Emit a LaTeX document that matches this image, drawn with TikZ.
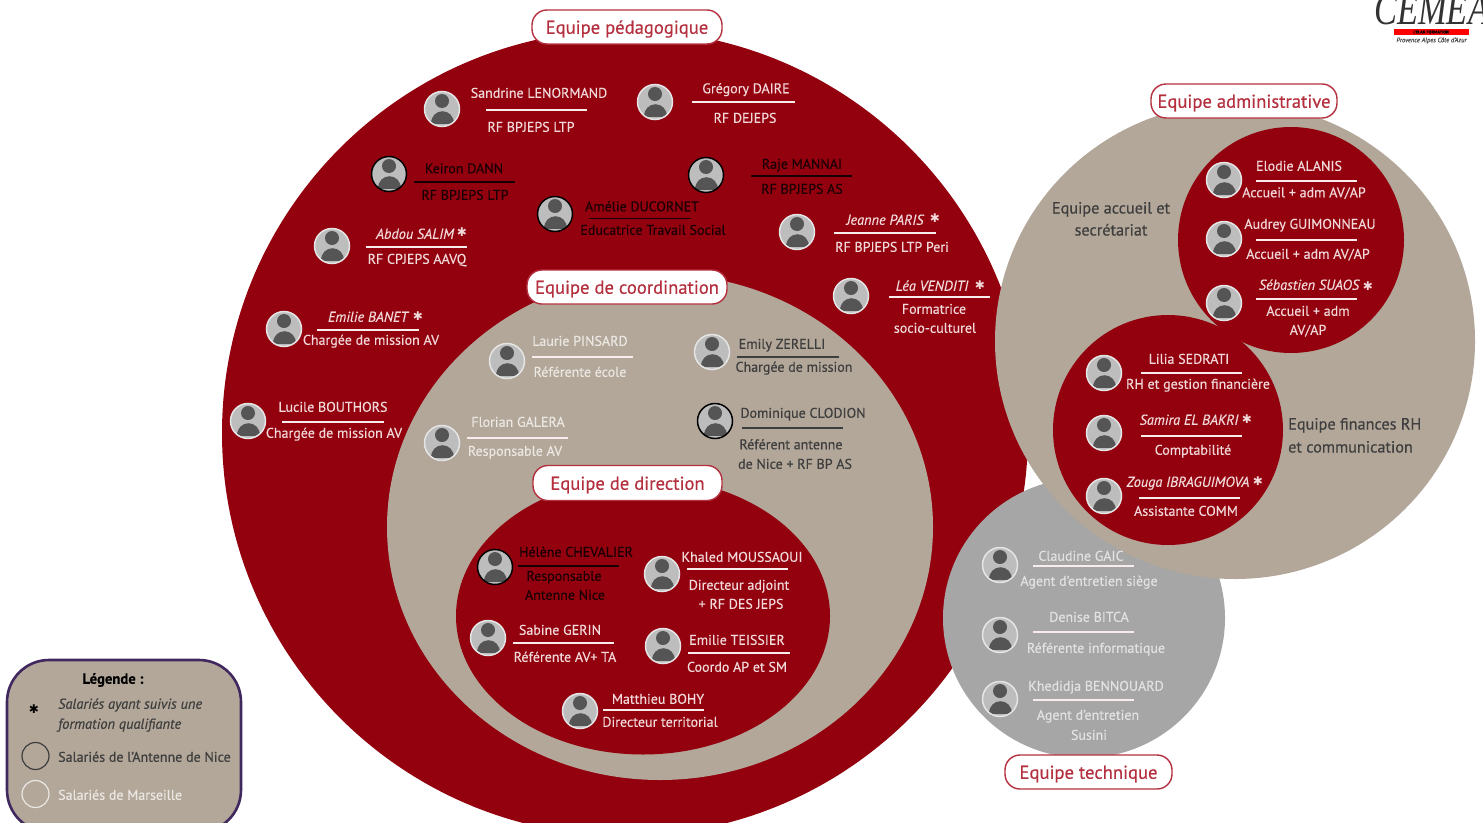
\documentclass[tikz,border=0pt]{standalone}
\usepackage{fontspec}
\setmainfont{PT Sans}[RawFeature={embolden=0.35}]
\newfontfamily\symfont{DejaVu Sans}
\newfontfamily\logofont{Liberation Serif}
\usetikzlibrary{shapes.geometric}
\definecolor{cred}{HTML}{93000E}
\definecolor{cbeige}{HTML}{B2A799}
\definecolor{cgrey}{HTML}{A6A6A6}
\definecolor{clab}{HTML}{B4303F}
\definecolor{cpurple}{HTML}{40285F}
\definecolor{cavfill}{HTML}{BDBDBD}
\definecolor{cavdark}{HTML}{555555}
\definecolor{cwr}{HTML}{F1D9D9}
\definecolor{cdk}{HTML}{1A0004}
\definecolor{cdb}{HTML}{3E3E3E}
\definecolor{cwb}{HTML}{EBE7E2}
\definecolor{cwg}{HTML}{E2E2E2}
\tikzset{
  team/.style={ellipse,inner sep=0pt,draw=none},
  tag/.style={draw=clab,line width=1.4pt,fill=white,rounded corners=15pt,inner sep=0pt,text=clab,text height=13.5pt,text depth=0pt,font=\fontsize{18.6}{20}\selectfont},
  avatar/.style={circle,minimum size=35pt,inner sep=0pt,fill=cavfill,line width=1.5pt,
    path picture={
      \fill[cavdark,shift={(path picture bounding box.center)}] (0pt,8pt) circle[radius=7pt];
      \fill[cavdark,shift={(path picture bounding box.center)}] (-11.5pt,-14.5pt) .. controls (-11.5pt,2pt) and (11.5pt,2pt) .. (11.5pt,-14.5pt) -- cycle;
    }},
  avw/.style={avatar,draw=white!90!black},
  avk/.style={avatar,draw=black},
  base/.style={inner sep=0pt,text height=9.5pt,text depth=0pt,font=\fontsize{14}{16}\selectfont},
  tw/.style={base,text=cwr},
  tk/.style={base,text=cdk},
  tb/.style={base,text=cdb},
  tl/.style={base,text=cwb},
  tg/.style={base,text=cwg},
  ital/.style={font=\fontsize{14.3}{16}\selectfont\itshape},
  rw/.style={draw=cwr!50!white,line width=1.5pt},
  rk/.style={draw=black!85!cred,line width=1.5pt},
  rd/.style={draw=cdb,line width=1.5pt},
  big/.style={text=cdb,text height=11pt,text depth=0pt,font=\fontsize{16.2}{18}\selectfont,inner sep=0pt},
  starw/.style={text=cwr,font=\fontsize{12}{12}\symfont,inner sep=0pt},
  leg/.style={base,text=cdb,anchor=west},
}
\newcommand{\txt}[5]{\node[#4] (#1) at (#2,#3) {#5};}
\newcommand{\myrule}[4]{\draw[#4] (#1,#3) -- (#2,#3);}
\begin{document}
\begin{tikzpicture}[x=1pt,y=-1pt]
\useasboundingbox (0,0) rectangle (1483,822);
\begin{scope}
\clip (0,0) rectangle (1483,822);
\fill[white] (0,0) rectangle (1483,822);
% team circles
\node[team,fill=cred,minimum width=806pt,minimum height=806pt] (ped) at (625,433) {};
\node[team,fill=cgrey,minimum width=282pt,minimum height=280pt] (tech) at (1084,618) {};
\node[team,fill=cbeige,minimum width=480pt,minimum height=476pt] (adm) at (1235,341) {};
\node[team,fill=cred,minimum width=226pt,minimum height=226pt] (acc) at (1291,240) {};
\node[team,fill=cred,minimum width=230pt,minimum height=230pt] (fin) at (1168,430) {};
\node[team,fill=cbeige,minimum width=546pt,minimum height=506pt] (coo) at (660,527) {};
\node[team,fill=cred,minimum width=374pt,minimum height=277pt] (dir) at (643,616) {};
% tags
\node[tag,minimum width=190pt,minimum height=34pt] (tagped) at (627,27) {Equipe pédagogique};
\node[tag,minimum width=200pt,minimum height=34pt] (tagcoo) at (627,287) {Equipe de coordination};
\node[tag,minimum width=189pt,minimum height=35pt] (tagdir) at (627.5,483) {Equipe de direction};
\node[tag,minimum width=186pt,minimum height=34pt] (tagadm) at (1244,101) {Equipe administrative};
\node[tag,minimum width=167pt,minimum height=34pt] (tagtec) at (1088.5,772) {Equipe technique};
% pedagogique
\node[avw] (a1) at (442,109) {};
\txt{n1}{539}{93}{tw}{Sandrine LENORMAND}\myrule{486}{587}{110}{rw}\txt{r1}{531}{127}{tw}{RF BPJEPS LTP}
\node[avw] (a2) at (655,102) {};
\txt{n2}{746}{88.5}{tw}{Grégory DAIRE}\myrule{692}{795}{102}{rw}\txt{r2}{745}{118}{tw}{RF DEJEPS}
\node[avk] (a3) at (389,174) {};
\txt{n3}{464}{168.5}{tk}{Keiron DANN}\myrule{414}{515}{182}{rk}\txt{r3}{465}{195}{tk}{RF BPJEPS LTP}
\node[avw] (a4) at (332,246) {};
\txt{n4}{415}{234}{tw,ital}{Abdou SALIM}\txt{s4}{462}{232}{starw}{✱}\myrule{366}{467}{247}{rw}\txt{r4}{417}{259}{tw}{RF CPJEPS AAVQ}
\node[avk] (a5) at (555,214) {};
\txt{n5}{642}{206.5}{tk}{Amélie DUCORNET}\myrule{589}{691}{218.5}{rk}\txt{r5}{653}{230}{tk}{Educatrice Travail Social}
\node[avk] (a6) at (706,175) {};
\txt{n6}{802}{164}{tk}{Raje MANNAI}\myrule{751}{852}{176}{rk}\txt{r6}{802}{189}{tk}{RF BPJEPS AS}
\node[avw] (a7) at (797,232) {};
\txt{n7}{885}{220}{tw,ital}{Jeanne PARIS}\txt{s7}{935}{218}{starw}{✱}\myrule{834}{936}{233}{rw}\txt{r7}{892}{247}{tw}{RF BPJEPS LTP Peri}
\node[avw] (a8) at (851,296) {};
\txt{n8}{932}{286}{tw,ital}{Léa VENDITI}\txt{s8}{980}{285}{starw}{✱}\myrule{889}{990}{297}{rw}\txt{r8}{934}{309}{tw}{Formatrice}\txt{q8}{935}{328}{tw}{socio-culturel}
\node[avw] (a9) at (284,329) {};
\txt{n9}{368}{317}{tw,ital}{Emilie BANET}\txt{s9}{418}{316}{starw}{✱}\myrule{317}{419}{330}{rw}\txt{r9}{371}{340}{tw}{Chargée de mission AV}
\node[avw] (a10) at (248,421) {};
\txt{n10}{333}{407}{tw}{Lucile BOUTHORS}\myrule{282}{384}{422}{rw}\txt{r10}{334}{433}{tw}{Chargée de mission AV}
% coordination
\node[avw] (c1) at (507,361) {};
\txt{cn1}{580}{341}{tl}{Laurie PINSARD}\myrule{532}{633}{357}{rw}\txt{cr1}{580}{372}{tl}{Référente école}
\node[avw] (c2) at (712,352) {};
\txt{cn2}{782}{344}{tb}{Emily ZERELLI}\myrule{737}{839}{357}{rd}\txt{cr2}{794}{367}{tb}{Chargée de mission}
\node[avw] (c3) at (442,443) {};
\txt{cn3}{518}{422}{tl}{Florian GALERA}\myrule{467}{568}{438}{rw}\txt{cr3}{515}{451}{tl}{Responsable AV}
\node[avk] (c4) at (715,421) {};
\txt{cn4}{803}{413}{tb}{Dominique CLODION}\myrule{742}{843}{428}{rd}\txt{cr4}{791}{444.5}{tb}{Référent antenne}\txt{cq4}{795}{464}{tb}{de Nice + RF BP AS}
% direction
\node[avk] (d1) at (495,567) {};
\txt{dn1}{576}{552}{tk}{Hélène CHEVALIER}\myrule{518}{619}{566}{rk}\txt{dr1}{564}{576}{tk}{Responsable}\txt{dq1}{565}{595}{tk}{Antenne Nice}
\node[avw] (d2) at (662,574) {};
\txt{dn2}{742}{557}{tw}{Khaled MOUSSAOUI}\myrule{687}{788}{569}{rw}\txt{dr2}{739}{585}{tw}{Directeur adjoint}\txt{dq2}{741}{604}{tw}{+ RF DES JEPS}
\node[avw] (d3) at (488,638) {};
\txt{dn3}{560}{630}{tw}{Sabine GERIN}\myrule{513}{614}{643}{rw}\txt{dr3}{565}{657}{tw}{Référente AV+ TA}
\node[avw] (d4) at (663,646) {};
\txt{dn4}{737}{640}{tw}{Emilie TEISSIER}\myrule{688}{790}{653}{rw}\txt{dr4}{737}{667}{tw}{Coordo AP et SM}
\node[avw] (d5) at (580,711) {};
\txt{dn5}{658}{699}{tw}{Matthieu BOHY}\myrule{603}{704}{710}{rw}\txt{dr5}{660}{722}{tw}{Directeur territorial}
% accueil
\node[avw] (e1) at (1224,180) {};
\txt{en1}{1299}{166}{tw}{Elodie ALANIS}\myrule{1256}{1357}{181}{rw}\txt{er1}{1304}{192.5}{tw}{Accueil + adm AV/AP}
\node[avw] (e2) at (1224,239) {};
\txt{en2}{1310}{224}{tw}{Audrey GUIMONNEAU}\myrule{1256}{1357}{240}{rw}\txt{er2}{1308}{254}{tw}{Accueil + adm AV/AP}
\node[avw] (e3) at (1224,303) {};
\txt{en3}{1309}{285}{tw,ital}{Sébastien SUAOS}\txt{es3}{1368}{286}{starw}{✱}\myrule{1256}{1357}{299}{rw}\txt{er3}{1308}{311}{tw}{Accueil + adm}\txt{eq3}{1308}{330}{tw}{AV/AP}
\txt{b1}{1111}{208}{big}{Equipe accueil et}
\txt{b2}{1111}{230}{big}{secrétariat}
% finances
\node[avw] (f1) at (1104,373) {};
\txt{fn1}{1189}{359}{tw}{Lilia SEDRATI}\myrule{1141}{1242}{373}{rw}\txt{fr1}{1198}{384}{tw}{RH et gestion financière}
\node[avw] (f2) at (1104,433) {};
\txt{fn2}{1189}{420}{tw,ital}{Samira EL BAKRI}\txt{fs2}{1247}{419}{starw}{✱}\myrule{1141}{1242}{436}{rw}\txt{fr2}{1193}{450}{tw}{Comptabilité}
\node[avw] (f3) at (1104,496) {};
\txt{fn3}{1188}{482}{tw,ital}{Zouga IBRAGUIMOVA}\txt{fs3}{1258}{481}{starw}{✱}\myrule{1139}{1240}{498}{rw}\txt{fr3}{1186}{511}{tw}{Assistante COMM}
\node[big,anchor=west] (b3) at (1288,424) {Equipe finances RH};
\node[big,anchor=west] (b4) at (1288,447) {et communication};
% technique
\node[avw] (g1) at (1000,565) {};
\txt{gn1}{1081}{556}{tg}{Claudine GAIC}\myrule{1033}{1134}{566}{rw}\txt{gr1}{1089}{581}{tg}{Agent d'entretien siège}
\node[avw] (g2) at (1000,635) {};
\txt{gn2}{1089}{617}{tg}{Denise BITCA}\myrule{1033}{1134}{632}{rw}\txt{gr2}{1096}{648}{tg}{Référente informatique}
\node[avw] (g3) at (1000,699) {};
\txt{gn3}{1096}{686}{tg}{Khedidja BENNOUARD}\myrule{1033}{1134}{700}{rw}\txt{gr3}{1088}{715}{tg}{Agent d'entretien}\txt{gq3}{1089}{735}{tg}{Susini}
% legend
\node[draw=cpurple,line width=2.6pt,fill=cbeige,rounded corners=42pt,minimum width=234pt,minimum height=172pt,inner sep=0pt] (legbox) at (124,746) {};
\node[base,text=black,font=\fontsize{14.7}{16}\selectfont\bfseries] (legt) at (113,679) {Légende :};
\node[text=black,font=\fontsize{12}{12}\symfont,inner sep=0pt] (legs) at (34,709) {✱};
\node[leg,font=\fontsize{14.4}{16}\selectfont\itshape] (leg1) at (58,704) {Salariés ayant suivis une};
\node[leg,font=\fontsize{14.4}{16}\selectfont\itshape] (leg2) at (58,724) {formation qualifiante};
\node[circle,draw=cdb,line width=1.2pt,minimum size=27pt,inner sep=0pt] (legc1) at (35.5,756) {};
\node[leg] (leg3) at (58,757) {Salariés de l'Antenne de Nice};
\node[circle,draw=cwb,line width=1.2pt,minimum size=27pt,inner sep=0pt] (legc2) at (35.5,794) {};
\node[leg,text=cwb] (leg4) at (58,795) {Salariés de Marseille};
% logo
\node[anchor=base west,inner sep=0pt,xscale=0.75,text=black!80,font=\fontsize{46}{46}\logofont\itshape] (logo) at (1374,24) {CEMEA};
\node[fill=red,minimum width=75pt,minimum height=6pt,inner sep=0pt] (logobar) at (1431,32) {};
\node[inner sep=0pt,text=black,font=\fontsize{4.2}{4.2}\selectfont\bfseries] (logobt) at (1431,32) {L'ELAN FORMATION};
\node[inner sep=0pt,text=black!70,font=\fontsize{6.5}{6.5}\selectfont\itshape] (logosub) at (1431.5,40.5) {Provence Alpes Côte d'Azur};
\end{scope}
\end{tikzpicture}
\end{document}
